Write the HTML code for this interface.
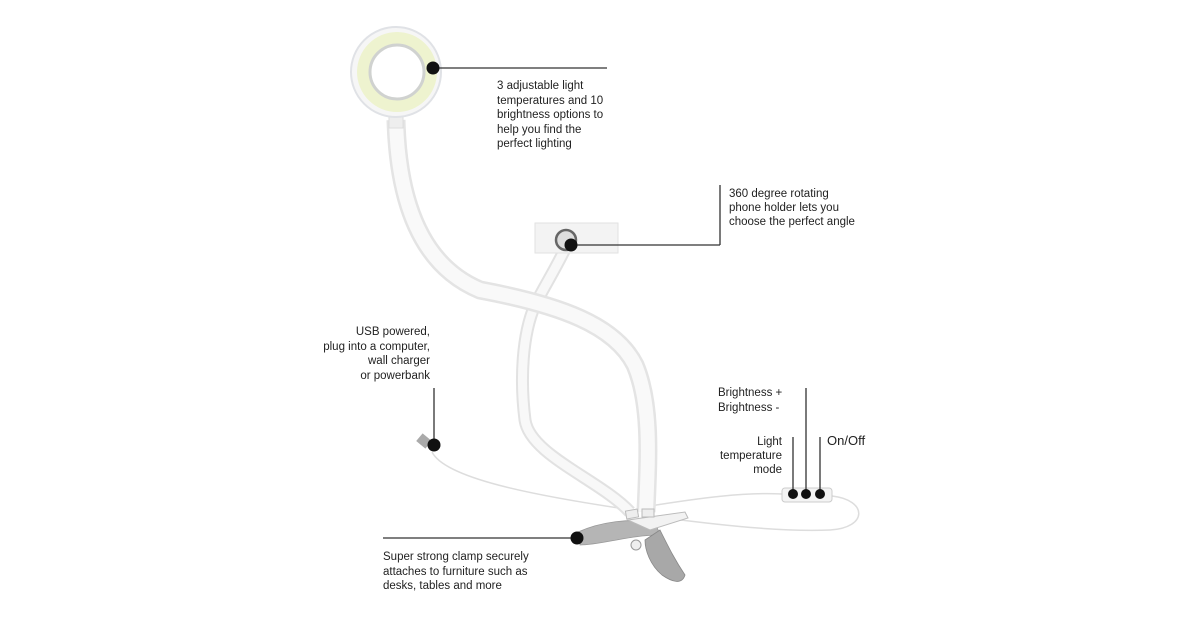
<!DOCTYPE html>
<html><head><meta charset="utf-8"><style>
html,body{margin:0;padding:0;background:#fff}
svg{display:block}
text{font-family:"Liberation Sans",sans-serif;font-size:11.5px;fill:#222}
</style></head><body>
<svg width="1200" height="630" viewBox="0 0 1200 630" xmlns="http://www.w3.org/2000/svg">
<!-- cables -->
<path d="M432 452 C445 478 530 495 632 510" fill="none" stroke="#ddd" stroke-width="1.5"/>
<path d="M650 506 C700 498 745 492 782 494" fill="none" stroke="#ddd" stroke-width="1.5"/>
<path d="M832 496 C868 500 868 528 830 530 C780 532 720 525 665 518" fill="none" stroke="#ddd" stroke-width="1.5"/>
<!-- short gooseneck -->
<path d="M567 245 C555 270 545 285 535 305 C522 335 520 380 525 420 C530 455 600 480 630 512" fill="none" stroke="#e2e2e2" stroke-width="13"/>
<path d="M567 245 C555 270 545 285 535 305 C522 335 520 380 525 420 C530 455 600 480 630 512" fill="none" stroke="#f8f8f8" stroke-width="9"/>
<!-- long gooseneck -->
<path d="M396 120 C398 200 420 265 480 290 C560 305 615 325 635 365 C652 405 648 460 646 512" fill="none" stroke="#e4e4e4" stroke-width="19"/>
<path d="M396 120 C398 200 420 265 480 290 C560 305 615 325 635 365 C652 405 648 460 646 512" fill="none" stroke="#f9f9f9" stroke-width="14"/>
<!-- ring light -->
<rect x="389" y="112" width="14" height="16" fill="#eee" stroke="#ddd"/>
<circle cx="396" cy="72" r="45" fill="#f6f6f6" stroke="#e0e2e6" stroke-width="2"/>
<circle cx="397" cy="72" r="40" fill="#eef3cf"/>
<circle cx="397" cy="72" r="27" fill="#fff" stroke="#d0d2d0" stroke-width="3"/>
<!-- phone holder -->
<rect x="535" y="223" width="83" height="30" fill="#f3f3f3" stroke="#e2e2e2"/>
<circle cx="566" cy="240" r="10" fill="#ddd" stroke="#666" stroke-width="2.5"/>
<!-- USB plug -->
<rect x="418" y="436" width="12" height="10" fill="#aaa" transform="rotate(40 424 441)"/>
<!-- clamp -->
<path d="M578 532 C600 522 630 518 655 522 L660 535 C630 535 600 545 580 545 Z" fill="#b5b5b5" stroke="#999" stroke-width="0.8"/>
<path d="M645 540 L660 530 C670 550 675 560 685 575 C682 585 672 582 662 575 C650 565 645 550 645 540 Z" fill="#a8a8a8" stroke="#888" stroke-width="0.8"/>
<path d="M628 520 L685 512 L688 518 L650 530 Z" fill="#f2f2f2" stroke="#bbb"/>
<circle cx="636" cy="545" r="5" fill="#eee" stroke="#999"/>
<rect x="626" y="510" width="12" height="8" fill="#eee" stroke="#bbb" transform="rotate(-10 632 514)"/>
<rect x="642" y="509" width="12" height="8" fill="#eee" stroke="#bbb"/>
<!-- control box -->
<rect x="782" y="488" width="50" height="14" rx="3" fill="#f4f4f4" stroke="#ccc"/>
<!-- leader lines -->
<g stroke="#333" stroke-width="1.3">
<line x1="433" y1="68" x2="607" y2="68"/>
<line x1="571" y1="245" x2="720" y2="245"/>
<line x1="720" y1="245" x2="720" y2="185"/>
<line x1="434" y1="388" x2="434" y2="445"/>
<line x1="383" y1="538" x2="577" y2="538"/>
<line x1="793" y1="437" x2="793" y2="494"/>
<line x1="806" y1="388" x2="806" y2="494"/>
<line x1="820" y1="437" x2="820" y2="494"/>
</g>
<g fill="#111">
<circle cx="433" cy="68" r="6.5"/>
<circle cx="571" cy="245" r="6.5"/>
<circle cx="434" cy="445" r="6.5"/>
<circle cx="577" cy="538" r="6.5"/>
<circle cx="793" cy="494" r="5"/>
<circle cx="806" cy="494" r="5"/>
<circle cx="820" cy="494" r="5"/>
</g>
<text x="497" y="89">3 adjustable light</text>
<text x="497" y="104">temperatures and 10</text>
<text x="497" y="118">brightness options to</text>
<text x="497" y="133">help you find the</text>
<text x="497" y="147">perfect lighting</text>
<text x="729" y="197">360 degree rotating</text>
<text x="729" y="211">phone holder lets you</text>
<text x="729" y="225">choose the perfect angle</text>
<g text-anchor="end">
<text x="430" y="335">USB powered,</text>
<text x="430" y="350">plug into a computer,</text>
<text x="430" y="364">wall charger</text>
<text x="430" y="379">or powerbank</text>
<text x="782" y="445">Light</text>
<text x="782" y="459">temperature</text>
<text x="782" y="473">mode</text>
</g>
<text x="718" y="396">Brightness +</text>
<text x="718" y="411">Brightness  -</text>
<text x="827" y="445" style="font-size:13px">On/Off</text>
<text x="383" y="560">Super strong clamp securely</text>
<text x="383" y="575">attaches to furniture such as</text>
<text x="383" y="589">desks, tables and more</text>
</svg>
</body></html>
